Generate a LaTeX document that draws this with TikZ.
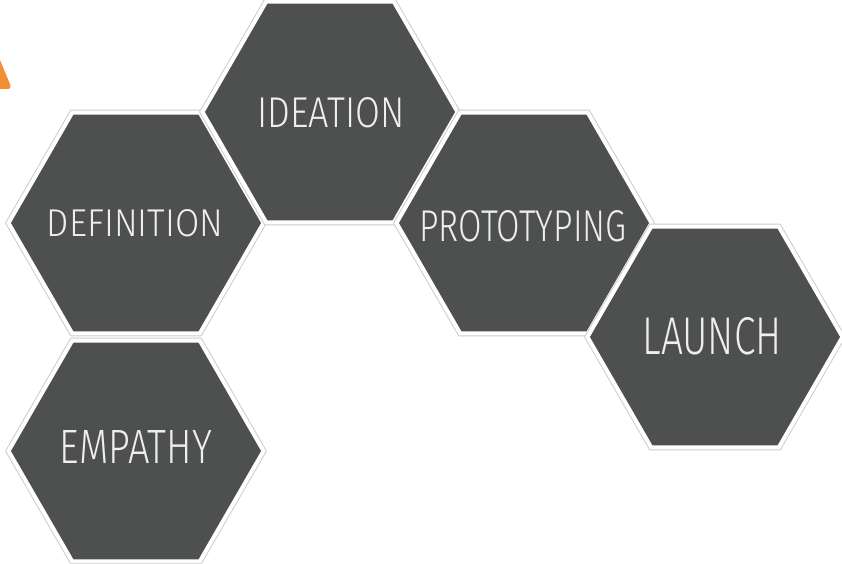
\documentclass[tikz,border=0pt]{standalone}
\usepackage{fontspec}
\setmainfont{Fira Sans}[UprightFont=* Light]
\usetikzlibrary{shapes.geometric}
\definecolor{hexfill}{RGB}{78,80,79}
\definecolor{hexline}{RGB}{205,205,205}
\definecolor{hextext}{RGB}{238,238,238}
\definecolor{accent}{RGB}{242,142,52}
\tikzset{
  hexcell/.style={regular polygon, regular polygon sides=6, minimum size=255pt,
    inner sep=0pt, fill=hexfill, draw=white, line width=4pt,
    preaction={draw=hexline, line width=6pt}},
  hexlabel/.style={text=hextext, inner sep=0pt}
}
\begin{document}
\begin{tikzpicture}[x=1pt,y=-1pt]
\useasboundingbox (0,0) rectangle (842,564);
\begin{scope}
\clip (0,0) rectangle (842,564);
\fill[accent, rounded corners=4pt] (-30,89) -- (12,89) -- (-10,36) -- cycle;
\end{scope}
\node[hexcell] (emp) at (136,451) {};
\node[hexcell] (def) at (136,223) {};
\node[hexcell] (ide) at (330,112) {};
\node[hexcell] (pro) at (524,223) {};
\node[hexcell] (lau) at (715,337) {};
\node[hexlabel] (tdef) at (135,223) {\resizebox{176pt}{27pt}{DEFINITION}};
\node[hexlabel] (tide) at (331,113) {\resizebox{147pt}{30pt}{IDEATION}};
\node[hexlabel] (tpro) at (523,226) {\resizebox{207pt}{31pt}{PROTOTYPING}};
\node[hexlabel] (tlau) at (712,336) {\resizebox{139pt}{37pt}{LAUNCH}};
\node[hexlabel] (temp) at (136,447) {\resizebox{152pt}{33pt}{EMPATHY}};
\end{tikzpicture}
\end{document}
